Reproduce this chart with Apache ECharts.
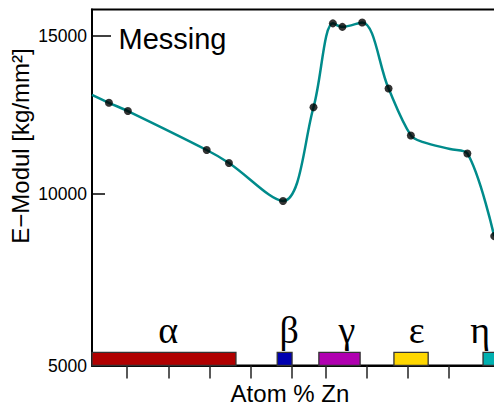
<!DOCTYPE html>
<html><head><meta charset="utf-8">
<script src="https://cdn.jsdelivr.net/npm/echarts@6/dist/echarts.min.js"></script>
<style>html,body{margin:0;padding:0;background:#fff}#c{width:494px;height:407px}</style>
</head><body><div id="c"></div>
<script>
// ---- data ----
// fitted curve
const curveX = [1.5, 5.6, 10.2, 29.3, 34.7, 47.8, 55.2, 59.9, 62.2, 67.0, 73.4, 78.8, 81.8, 88.3, 92.5, 99.0];
const curveY = [13130, 12880, 12620, 11390, 10980, 9780, 12740, 15390, 15280, 15420, 13330, 11850, 11640, 11420, 11280, 8670];
// measured points (black dots)
const pointX = [5.6, 10.2, 29.3, 34.7, 47.8, 55.2, 59.9, 62.2, 67.0, 73.4, 78.8, 92.5, 99.0];
const pointY = [12880, 12620, 11390, 10980, 9780, 12740, 15390, 15280, 15420, 13330, 11850, 11280, 8670];
const phaseNames = ['α', 'β', 'γ', 'ε', 'η'];
const phaseFrom = [1.5, 46.4, 56.5, 74.7, 96.3];
const phaseTo = [36.4, 50.0, 66.5, 83.0, 101];
const phaseLabelAt = [20.0, 49.3, 63.3, 80.2, 95.6];
const phaseTop = 5000;
const phaseColors = ['#b00000', '#0000b0', '#b000b0', '#ffd700', '#00b0b0'];
const xTicks = [10, 20, 30, 40, 50, 58.2, 68.2, 78.1, 88.1];
const X_MIN = 1.5, X_MAX = 100;
const Y_MIN = 4583, Y_MAX = 15828;
const yTickValues = [Y_MIN, 10000, 15000];
const yTickLabels = ['5000', '10000', '15000'];

const chart = echarts.init(document.getElementById('c'), null, {renderer: 'svg'});
const SANS = '"Liberation Sans", Arial, sans-serif';

chart.setOption({
  animation: false,
  backgroundColor: '#fff',
  grid: {left: 92, top: 9.5, width: 406.3, bottom: 41.5, show: true, borderColor: '#000', borderWidth: 2,
         containLabel: false, outerBoundsMode: 'none'},
  xAxis: {
    type: 'value', min: X_MIN, max: X_MAX,
    axisLine: {show: true, lineStyle: {color: '#000', width: 2}},
    axisTick: {show: true, customValues: xTicks, length: 13, lineStyle: {color: '#222', width: 1.5}},
    axisLabel: {show: false},
    splitLine: {show: false},
    name: 'Atom % Zn', nameLocation: 'middle', nameGap: 16,
    nameTextStyle: {fontSize: 24, fontFamily: SANS, color: '#000', padding: [0, 10.4, 0, 0]}
  },
  yAxis: [{
    type: 'value', min: Y_MIN, max: Y_MAX,
    axisLine: {show: true, lineStyle: {color: '#000', width: 2}},
    axisTick: {show: true, inside: true, customValues: [10000], length: 13, lineStyle: {color: '#000', width: 1.5}},
    axisLabel: {
      show: true, customValues: yTickValues, margin: 5,
      formatter: v => { const i = yTickValues.indexOf(v); return i >= 0 ? yTickLabels[i] : ''; },
      fontSize: 17.5, fontFamily: SANS, color: '#000'
    },
    splitLine: {show: false}
  }, {
    type: 'value', min: Y_MIN, max: Y_MAX, position: 'left',
    axisLine: {show: false},
    axisTick: {show: true, inside: true, customValues: [15000], length: 19, lineStyle: {color: '#000', width: 1.5}},
    axisLabel: {show: false},
    splitLine: {show: false}
  }],
  graphic: [
    {type: 'text', x: 20.5, y: 146, rotation: Math.PI / 2, z: 100,
     style: {text: 'E−Modul [kg/mm²]', font: '24px ' + SANS, fill: '#000', align: 'center', verticalAlign: 'middle'}},
    {type: 'text', x: 118.5, y: 39.2, z: 100,
     style: {text: 'Messing', font: '29px ' + SANS, fill: '#000', align: 'left', verticalAlign: 'middle'}}
  ],
  series: [
    {
      type: 'custom', name: 'Phasen', xAxisIndex: 0, yAxisIndex: 0,
      data: phaseNames.map((n, i) => [phaseFrom[i], phaseTo[i], phaseLabelAt[i], phaseTop]),
      renderItem: (params, api) => {
        const i = params.dataIndex;
        const tl = api.coord([api.value(0), api.value(3)]);
        const br = api.coord([api.value(1), Y_MIN]);
        const cs = params.coordSys;
        const shape = echarts.graphic.clipRectByRect(
          {x: tl[0], y: tl[1], width: br[0] - tl[0], height: br[1] - tl[1]},
          {x: cs.x, y: cs.y, width: cs.width, height: cs.height});
        const lp = api.coord([api.value(2), api.value(3)]);
        const children = [];
        if (shape) children.push({type: 'rect', shape: shape, style: {fill: phaseColors[i], stroke: '#333', lineWidth: 1.3}});
        children.push({type: 'text', x: lp[0], y: lp[1] - 22,
          style: {text: phaseNames[i], font: '38px "Liberation Serif", "Times New Roman", serif', fill: '#000', align: 'center', verticalAlign: 'middle'}});
        return {type: 'group', children: children};
      }
    },
    {
      type: 'line', name: 'Kurve', smooth: 0.35, showSymbol: false, symbol: 'none',
      data: curveX.map((x, i) => [x, curveY[i]]),
      lineStyle: {color: '#008b8b', width: 2.5}, z: 3
    },
    {
      type: 'scatter', name: 'Messwerte', symbolSize: 8,
      data: pointX.map((x, i) => [x, pointY[i]]),
      itemStyle: {color: '#000'}, z: 4
    }
  ]
});
</script></body></html>
